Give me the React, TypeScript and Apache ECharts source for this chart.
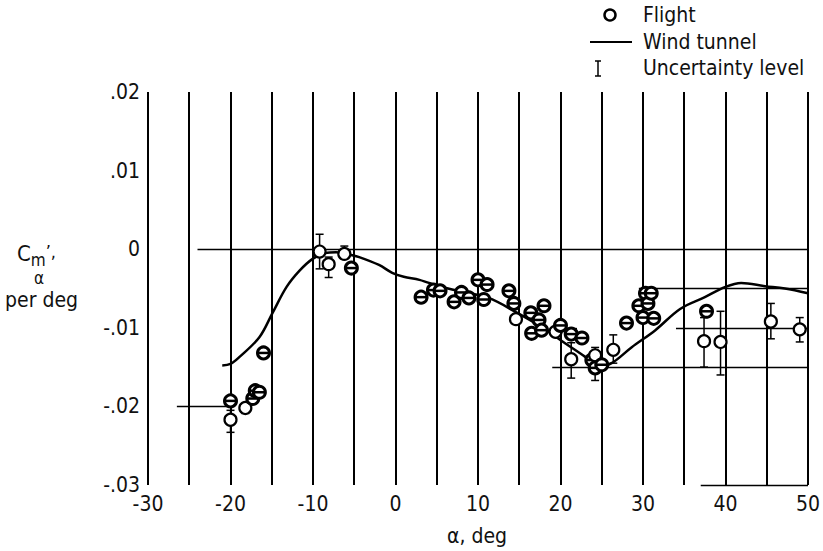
import React, { useEffect, useRef } from "react";
import * as echarts from "echarts";

// Wind tunnel curve
const tunnelAlpha = [-21, -20, -18.9, -16.5, -14.9, -13.2, -11.6, -10, -8.5, -7.2, -5.5, -4.4, -2, -0.4, 1, 2.9, 5.6, 8.5, 11.3, 14.6, 17.7, 20.6, 23, 24.6, 26.2, 28.6, 31.5, 34.5, 37.5, 40, 41.9, 44.8, 47.2, 50];
const tunnelCm = [-0.0148, -0.0146, -0.0137, -0.0112, -0.0081, -0.0048, -0.0027, -0.0012, -0.0005, -0.0004, -0.0007, -0.001, -0.002, -0.003, -0.0035, -0.0039, -0.0048, -0.0055, -0.0062, -0.008, -0.0099, -0.012, -0.0137, -0.015, -0.0145, -0.0125, -0.0103, -0.0076, -0.0061, -0.0048, -0.0043, -0.0047, -0.005, -0.0056];

// Flight points (style: 0 = open circle, 1 = circle with bar)
const flightAlpha = [-20, -20, -18.2, -17.3, -17.0, -16.5, -16.0, -9.2, -8.1, -6.2, -5.35, 3.1, 4.6, 5.4, 7.1, 8.0, 8.9, 10.0, 10.7, 11.1, 13.75, 14.35, 14.6, 16.4, 16.5, 17.4, 17.7, 18.0, 19.4, 20.0, 21.3, 21.3, 22.6, 23.8, 24.2, 24.2, 25.0, 26.4, 28.0, 29.5, 30.0, 30.3, 30.6, 31.0, 31.3, 37.7, 37.4, 39.4, 45.5, 49.0];
const flightCm = [-0.0193, -0.0217, -0.0202, -0.019, -0.018, -0.0182, -0.0132, -0.0003, -0.0019, -0.0006, -0.0024, -0.0061, -0.0052, -0.0053, -0.0067, -0.0055, -0.0062, -0.0039, -0.0064, -0.0045, -0.0053, -0.0069, -0.0089, -0.0081, -0.0107, -0.009, -0.0103, -0.0072, -0.0105, -0.0097, -0.0108, -0.014, -0.0113, -0.0141, -0.0135, -0.0151, -0.0147, -0.0128, -0.0094, -0.0072, -0.0087, -0.0056, -0.0069, -0.0056, -0.0088, -0.0079, -0.0117, -0.0118, -0.0092, -0.0102];
const flightStyle = [1, 0, 0, 1, 1, 1, 1, 0, 0, 0, 1, 1, 1, 1, 1, 1, 1, 1, 1, 1, 1, 1, 0, 1, 1, 1, 1, 1, 0, 1, 1, 0, 1, 1, 0, 1, 1, 0, 1, 1, 1, 1, 1, 1, 1, 1, 0, 0, 0, 0];

// Uncertainty bars
const errAlpha = [-20, -18.2, -9.2, -8.1, -6.2, 21.3, 24.2, 24.2, 26.4, 37.4, 39.4, 45.5, 49.0];
const errLow = [-0.0233, -0.0209, -0.0025, -0.0036, -0.0012, -0.0164, -0.0145, -0.0167, -0.0145, -0.015, -0.016, -0.0114, -0.0118];
const errHigh = [-0.0205, -0.0196, 0.0019, -0.001, 0.0004, -0.0119, -0.0125, -0.014, -0.0109, -0.0087, -0.0079, -0.0069, -0.0087];

// Partial horizontal grid segments: [value, alphaFrom, alphaTo]
const hLines = [
  [0, -24, 50],
  [-0.02, -26.5, -20],
  [-0.005, 29.5, 50],
  [-0.01, 34, 50],
  [-0.01, 19.5, 22],
  [-0.015, 19, 50],
  [-0.03, 37, 50],
];

const FONT = "'Liberation Sans Narrow', 'DejaVu Sans Condensed', 'Roboto Condensed', sans-serif";
const FS = 21;

export default function App() {
  const ref = useRef<HTMLDivElement>(null);
  useEffect(() => {
    if (!ref.current) return;
    const chart = echarts.init(ref.current, undefined, { renderer: "svg" });
    const flightData = flightAlpha.map((a, i) => [a, flightCm[i], flightStyle[i]]);
    const errData = errAlpha.map((a, i) => [a, errLow[i], errHigh[i]]);
    const tunnelData = tunnelAlpha.map((a, i) => [a, tunnelCm[i]]);
    const txt = (text: string, x: number, y: number, fontSize: number, lineHeight: number, align = "left") => ({
      type: "text",
      x,
      y,
      style: { text, fontFamily: FONT, fontSize, lineHeight, fill: "#111", align, verticalAlign: "middle" },
    });
    const option: any = {
      animation: false,
      backgroundColor: "#fff",
      grid: { left: 148, right: 13, top: 92, bottom: 66 },
      xAxis: {
        type: "value",
        min: -30,
        max: 50,
        interval: 5,
        axisLine: { show: false },
        axisTick: { show: false },
        axisLabel: {
          color: "#111",
          fontFamily: FONT,
          fontSize: FS,
          margin: 8,
          showMinLabel: true,
          showMaxLabel: true,
          formatter: (v: number) => (Math.round(v) % 10 === 0 ? String(Math.round(v)) : ""),
        },
        splitLine: { show: true, lineStyle: { color: "#000", width: 2 } },
      },
      yAxis: {
        type: "value",
        min: -0.03,
        max: 0.02,
        interval: 0.01,
        axisLine: { show: false },
        axisTick: { show: false },
        splitLine: { show: false },
        axisLabel: {
          color: "#111",
          fontFamily: FONT,
          fontSize: FS,
          margin: 8,
          formatter: (v: number) => {
            if (Math.abs(v) < 1e-9) return "0";
            return v.toFixed(2).replace("0.", ".");
          },
        },
      },
      series: [
        {
          type: "line",
          data: [],
          silent: true,
          markLine: {
            silent: true,
            symbol: "none",
            label: { show: false },
            lineStyle: { color: "#000", width: 1.3, type: "solid" },
            data: hLines.map(([y, x1, x2]) => [{ coord: [x1, y] }, { coord: [x2, y] }]),
          },
        },
        {
          type: "line",
          data: tunnelData,
          smooth: 0.35,
          symbol: "none",
          lineStyle: { color: "#000", width: 2.5 },
          z: 3,
        },
        {
          type: "custom",
          data: errData,
          z: 4,
          renderItem: (params: any, api: any) => {
            const x = api.value(0);
            const lo = api.coord([x, api.value(1)]);
            const hi = api.coord([x, api.value(2)]);
            const c = 4;
            return {
              type: "group",
              children: [
                { type: "line", shape: { x1: lo[0], y1: lo[1], x2: hi[0], y2: hi[1] }, style: { stroke: "#000", lineWidth: 1.5 } },
                { type: "line", shape: { x1: lo[0] - c, y1: lo[1], x2: lo[0] + c, y2: lo[1] }, style: { stroke: "#000", lineWidth: 1.5 } },
                { type: "line", shape: { x1: hi[0] - c, y1: hi[1], x2: hi[0] + c, y2: hi[1] }, style: { stroke: "#000", lineWidth: 1.5 } },
              ],
            };
          },
        },
        {
          type: "custom",
          data: flightData,
          z: 5,
          renderItem: (params: any, api: any) => {
            const p = api.coord([api.value(0), api.value(1)]);
            const t = api.value(2);
            const r = 6;
            const children: any[] = [
              { type: "circle", shape: { cx: p[0], cy: p[1], r }, style: { fill: "#fff", stroke: "#000", lineWidth: t === 1 ? 3 : 2.2 } },
            ];
            if (t === 1) {
              children.push({ type: "line", shape: { x1: p[0] - r, y1: p[1], x2: p[0] + r, y2: p[1] }, style: { stroke: "#000", lineWidth: 2.5 } });
            }
            return { type: "group", children };
          },
        },
      ],
      graphic: [
        // legend
        { type: "circle", shape: { cx: 610, cy: 15, r: 5.5 }, style: { fill: "#fff", stroke: "#000", lineWidth: 2.5 } },
        txt("Flight", 643, 15, FS, 20),
        { type: "line", shape: { x1: 590, y1: 42, x2: 632, y2: 42 }, style: { stroke: "#000", lineWidth: 2 } },
        txt("Wind tunnel", 643, 42, FS, 20),
        { type: "line", shape: { x1: 598, y1: 61, x2: 598, y2: 76 }, style: { stroke: "#000", lineWidth: 1.5 } },
        { type: "line", shape: { x1: 595, y1: 61, x2: 601, y2: 61 }, style: { stroke: "#000", lineWidth: 1.5 } },
        { type: "line", shape: { x1: 595, y1: 76, x2: 601, y2: 76 }, style: { stroke: "#000", lineWidth: 1.5 } },
        txt("Uncertainty level", 643, 68, FS, 20),
        // y-axis title: C m_alpha ', (one rich text)
        {
          type: "text",
          x: 17,
          y: 242,
          style: {
            text: "{c|C}{m|m}{p|’,}\n{s|}{a|α}",
            fontFamily: FONT,
            fill: "#111",
            rich: {
              c: { fontFamily: FONT, fontSize: 22, lineHeight: 26, verticalAlign: "top", fill: "#111" },
              m: { fontFamily: FONT, fontSize: 17, lineHeight: 26, verticalAlign: "bottom", fill: "#111" },
              p: { fontFamily: FONT, fontSize: 18, lineHeight: 26, verticalAlign: "top", fill: "#111" },
              s: { width: 17, fontSize: 16, lineHeight: 20 },
              a: { fontFamily: FONT, fontSize: 17, lineHeight: 20, fill: "#111" },
            },
          },
        },
        txt("per deg", 5, 300, FS, 16),
        // x-axis title
        txt("α, deg", 477, 536, FS, 18, "center"),
      ],
    };
    chart.setOption(option);
    return () => chart.dispose();
  }, []);
  return <div ref={ref} style={{ width: 823, height: 551, position: "absolute", left: 0, top: 0 }} />;
}
